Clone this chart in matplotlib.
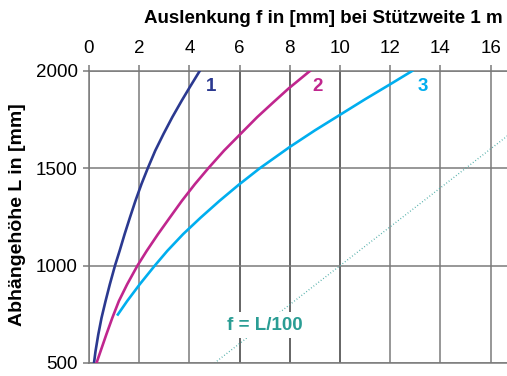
import matplotlib
matplotlib.use("Agg")
import matplotlib.pyplot as plt

plt.rcParams['font.family'] = ['Liberation Sans', 'DejaVu Sans']

# curve values: (f in mm, L in mm)
f1 = [0.20, 0.26, 0.37, 0.50, 0.66, 0.83, 1.04, 1.22, 1.42, 1.63, 1.85,
      2.09, 2.34, 2.64, 2.97, 3.32, 3.70, 4.02, 4.41]
L1 = [500, 560, 646, 732, 818, 904, 1002, 1076, 1162, 1247, 1333,
      1419, 1500, 1591, 1677, 1763, 1849, 1918, 2000]

f2 = [0.30, 0.46, 0.69, 0.93, 1.19, 1.52, 1.93, 2.30, 2.75, 3.22, 3.70,
      4.22, 4.75, 5.38, 6.00, 6.70, 7.35, 7.95, 8.80]
L2 = [500, 560, 646, 732, 818, 904, 1000, 1076, 1162, 1247, 1333,
      1419, 1500, 1591, 1672, 1763, 1840, 1910, 2000]

f3 = [1.15, 1.52, 2.02, 2.62, 3.12, 3.75, 4.45, 5.20, 5.96, 6.80, 8.00,
      9.00, 10.00, 11.00, 12.00, 12.87]
L3 = [749, 818, 904, 1000, 1076, 1162, 1247, 1333, 1415, 1500, 1610,
      1695, 1775, 1855, 1932, 2000]

# reference line f = L/100
f_ref = [5.0, 17.0]
L_ref = [500, 1700]

x_ticks = [0, 2, 4, 6, 8, 10, 12, 14, 16]
y_ticks = [500, 1000, 1500, 2000]
curve_labels = ['1', '2', '3']

blue = '#2b3990'
magenta = '#c0268e'
cyan = '#00aeef'
teal = '#2a9d94'
grid_gray = '#7a7a7a'

fig = plt.figure(figsize=(5.07, 3.76), dpi=100)
ax = fig.add_axes([0.1755, 0.0346, 0.8245, 0.7766])

ax.set_xlim(0, 16.65)
ax.set_ylim(500, 2000)
ax.set_xticks(x_ticks)
ax.set_yticks(y_ticks)

ax.xaxis.tick_top()
ax.tick_params(axis='both', labelsize=13.5, length=4, width=1.1,
               color=grid_gray)
ax.tick_params(axis='x', pad=6)
ax.tick_params(axis='y', pad=4)

for side in ['left', 'top', 'bottom']:
    ax.spines[side].set_color(grid_gray)
    ax.spines[side].set_linewidth(1.1)
ax.spines['right'].set_visible(False)

ax.grid(True, color=grid_gray, linewidth=1.1, zorder=0)
for val, gl in zip(x_ticks, ax.get_xgridlines()):
    if val in (6, 8, 10):
        gl.set_color('#3a3a3a')

ax.plot(f_ref, L_ref, linestyle=(0, (0.6, 1.6)), color='#4aaba5',
        linewidth=1.0, zorder=2)

ax.plot(f1, L1, color=blue, linewidth=1.9, zorder=3)
ax.plot(f2, L2, color=magenta, linewidth=1.9, zorder=3)
ax.plot(f3, L3, color=cyan, linewidth=1.9, zorder=3)

label_pos = [(4.86, 1920), (9.12, 1920), (13.3, 1920)]
for text, (x, y), c in zip(curve_labels, label_pos, [blue, magenta, cyan]):
    ax.text(x, y, text, color=c, fontsize=13.5, fontweight='bold',
            ha='center', va='center', zorder=4)

ax.text(7.0, 695, 'f = L/100', color=teal, fontsize=13.5, fontweight='bold',
        ha='center', va='center', zorder=4,
        bbox=dict(facecolor='white', edgecolor='none', pad=3))

fig.text(0.992, 0.952, 'Auslenkung f in [mm] bei Stützweite 1 m',
         fontsize=13.5, fontweight='bold', ha='right', va='center')
fig.text(0.034, 0.428, 'Abhängehöhe L in [mm]', fontsize=14,
         fontweight='bold', rotation=90, ha='center', va='center')

fig.savefig('out.png', dpi=100)
